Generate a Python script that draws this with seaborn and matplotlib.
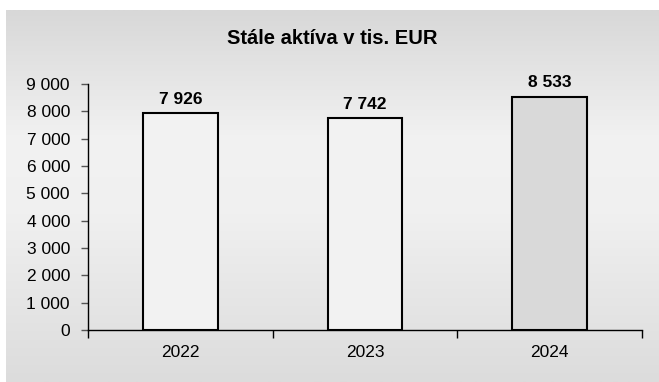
import numpy as np
import pandas as pd
import matplotlib
matplotlib.use("Agg")
import matplotlib.pyplot as plt
import seaborn as sns
from matplotlib.colors import LinearSegmentedColormap

years = ["2022", "2023", "2024"]
values = [7926, 7742, 8533]
bar_colors = ["#f2f2f2", "#f2f2f2", "#d9d9d9"]
title = "Stále aktíva v tis. EUR"
yticks = [0, 1000, 2000, 3000, 4000, 5000, 6000, 7000, 8000, 9000]

def fmt(v):
    return f"{v:,}".replace(",", " ")

sns.set_theme(style="white")
plt.rcParams["font.family"] = ["Liberation Sans", "DejaVu Sans"]

W, H = 659, 382
fig = plt.figure(figsize=(W / 100, H / 100), dpi=100)
fig.patch.set_facecolor("white")

# gradient background panel
bg = fig.add_axes([6 / W, 0, 1 - 6 / W, (H - 10) / H])
cmap = LinearSegmentedColormap.from_list(
    "g", [(0, "#d8d8d8"), (0.35, "#f2f2f2"), (0.55, "#f0f0f0"), (1, "#dcdcdc")])
grad = np.linspace(0, 1, 256).reshape(-1, 1)
bg.imshow(grad, aspect="auto", cmap=cmap, extent=[0, 1, 1, 0])
bg.set_axis_off()

left, right = 88 / W, 642 / W
bottom, top = (H - 330) / H, (H - 84) / H
ax = fig.add_axes([left, bottom, right - left, top - bottom])
ax.patch.set_alpha(0)

df = pd.DataFrame({"year": years, "value": values})
sns.barplot(data=df, x="year", y="value", hue="year", palette=bar_colors,
            width=0.405, edgecolor="black", linewidth=1.5, legend=False,
            saturation=1, ax=ax)

ax.set_xlim(-0.5, 2.5)
ax.set_ylim(0, 9000)
ax.set_yticks(yticks)
ax.set_yticklabels([fmt(v) for v in yticks], fontsize=12.5, color="black")
ax.set_xticks([0, 1, 2])
ax.set_xticklabels(years, fontsize=12.5, color="black")
ax.set_xlabel("")
ax.set_ylabel("")

for s in ["top", "right"]:
    ax.spines[s].set_visible(False)
for s in ["left", "bottom"]:
    ax.spines[s].set_color("black")
    ax.spines[s].set_linewidth(1.0)

ax.tick_params(axis="y", which="major", direction="out", length=5, width=1,
               color="#555555", pad=8, left=True)
ax.tick_params(axis="x", which="major", length=0, pad=11)
# category boundary ticks
ax.set_xticks([-0.5, 0.5, 1.5, 2.5], minor=True)
ax.tick_params(axis="x", which="minor", direction="out", length=6, width=1,
               color="black", bottom=True)

for i, v in enumerate(values):
    ax.text(i, v + 230, fmt(v), ha="center", va="bottom", fontsize=12.5,
            fontweight="bold", color="black")

fig.text((W / 2 + 3) / W, (H - 38) / H, title, ha="center", va="center",
         fontsize=14.5, fontweight="bold", color="black")

fig.savefig("out.png", dpi=100)
